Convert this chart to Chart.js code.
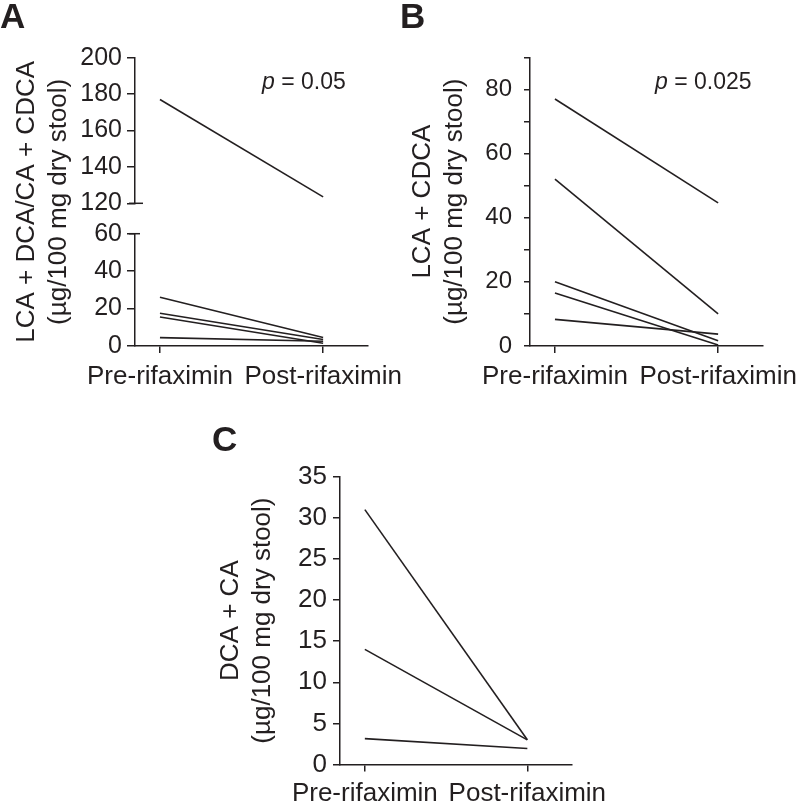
<!DOCTYPE html>
<html>
<head>
<meta charset="utf-8">
<title>Bile acids before and after rifaximin</title>
<script src="https://cdn.jsdelivr.net/npm/chart.js@4.4.1/dist/chart.umd.min.js"></script>
<style>
  html, body { margin: 0; padding: 0; background: #fff; }
  #wrap { position: relative; width: 800px; height: 807px; overflow: hidden; }
  canvas { position: absolute; }
</style>
</head>
<body>
<div id="wrap">
  <canvas id="chartA" width="420" height="400" style="left:0;top:0;width:420px;height:400px"></canvas>
  <canvas id="chartB" width="400" height="400" style="left:400px;top:0;width:400px;height:400px"></canvas>
  <canvas id="chartC" width="420" height="407" style="left:200px;top:400px;width:420px;height:407px"></canvas>
</div>
<script>
// x categories (tick labels)
const categories = ['Pre-rifaximin', 'Post-rifaximin'];

// Panel A - LCA + DCA/CA + CDCA, split axis
const aHighPre = [177];
const aHighPost = [123.5];
const aLowPre = [26, 17.5, 15.5, 4.5];
const aLowPost = [4.5, 3.5, 1.5, 2.5];
const aHighRange = [120, 200];
const aLowRange = [0, 60];

// Panel B - LCA + CDCA
const bPre = [77, 52, 20, 16.5, 8.3];
const bPost = [44.6, 10, 1.6, 0.3, 3.7];
const bRange = [0, 90];

// Panel C - DCA + CA
const cPre = [31, 14, 3.15];
const cPost = [3, 3, 1.95];
const cRange = [0, 35];

const pValues = ['0.05', '0.025'];

const INK = '#231f20';
const FONT = '"Liberation Sans", Arial, Helvetica, sans-serif';
Chart.defaults.font.family = FONT;
Chart.defaults.color = INK;

function subjectLines(pre, post, axisId) {
    return pre.map((v, i) => ({
        data: [{ x: 0, y: v }, { x: 1, y: post[i] }],
        yAxisID: axisId,
        borderColor: INK,
        borderWidth: 1.6,
        pointRadius: 0,
        tension: 0,
        fill: false
    }));
}

// linear x axis so the two groups sit where they do in the figure
function groupAxis(labelPad, height) {
    return {
        type: 'linear',
        position: 'bottom',
        min: -0.153,
        max: 1.275,
        afterBuildTicks: s => { s.ticks = categories.map((_, i) => ({ value: i })); },
        afterFit: s => { s.height = height; s.paddingLeft = 0; s.paddingRight = 0; },
        grid: { drawOnChartArea: false, tickLength: 7, color: INK, lineWidth: 1.5 },
        border: { color: INK, width: 1.5 },
        ticks: {
            padding: labelPad,
            maxRotation: 0,
            minRotation: 0,
            autoSkip: false,
            font: { size: 26 },
            color: INK,
            callback: v => categories[v]
        }
    };
}

function valueAxis(range, step, fontSize, tickLen, labelPad, width, labelEvery) {
    return {
        type: 'linear',
        position: 'left',
        min: range[0],
        max: range[1],
        afterFit: s => { s.width = width; s.paddingTop = 0; s.paddingBottom = 0; },
        grid: { drawOnChartArea: false, tickLength: tickLen, color: INK, lineWidth: 1.5 },
        border: { color: INK, width: 1.5 },
        ticks: {
            stepSize: step,
            autoSkip: false,
            padding: labelPad,
            font: { size: fontSize },
            color: INK,
            callback: v => (labelEvery && v % labelEvery !== 0) ? '' : v
        }
    };
}

function axisTitle(lines, pad) {
    return {
        display: true,
        text: lines,
        color: INK,
        font: { size: 26, lineHeight: 1.23 },
        padding: { top: pad, bottom: 0 }
    };
}

// panel letters, p values and the caps on the broken axis
const panelNotes = {
    id: 'panelNotes',
    afterDraw(chart, args, opts) {
        const ctx = chart.ctx;
        ctx.save();
        ctx.fillStyle = INK;
        ctx.strokeStyle = INK;
        ctx.lineWidth = 1.5;
        ctx.textAlign = 'left';
        ctx.textBaseline = 'alphabetic';
        ctx.font = 'bold 35px ' + FONT;
        ctx.fillText(opts.letter, opts.letterX, opts.letterY);
        if (opts.p) {
            ctx.font = 'italic 23px ' + FONT;
            ctx.fillText('p', opts.pX, opts.pY);
            const w = ctx.measureText('p').width;
            ctx.font = '23px ' + FONT;
            ctx.fillText(' = ' + opts.p, opts.pX + w, opts.pY);
        }
        (opts.caps || []).forEach(([id, value, reach]) => {
            const scale = chart.scales[id];
            const y = scale.getPixelForValue(value);
            const x = scale.right;
            ctx.beginPath();
            ctx.moveTo(x - 6, y);
            ctx.lineTo(x + reach, y);
            ctx.stroke();
        });
        ctx.restore();
    }
};

const common = {
    responsive: false,
    animation: false,
    events: []
};

// Panel A
const aHigh = valueAxis(aHighRange, 20, 25, 8, 5, 67);
aHigh.stack = 'a';
aHigh.stackWeight = 145.6;
aHigh.weight = 3;
const aLow = valueAxis(aLowRange, 20, 25, 8, 5, 67);
aLow.stack = 'a';
aLow.stackWeight = 112.3;
aLow.weight = 1;

new Chart(document.getElementById('chartA'), {
    type: 'line',
    data: {
        datasets: subjectLines(aHighPre, aHighPost, 'yHigh')
            .concat(subjectLines(aLowPre, aLowPost, 'yLow'))
    },
    options: {
        ...common,
        layout: { padding: { left: 0, top: 57.7, right: 52, bottom: 4 } },
        plugins: {
            legend: { display: false },
            tooltip: { enabled: false },
            panelNotes: {
                letter: 'A', letterX: 0, letterY: 28, p: pValues[0], pX: 262, pY: 89,
                caps: [['yHigh', aHighRange[0], 8], ['yLow', aLowRange[1], 5]]
            }
        },
        scales: {
            x: groupAxis(8, 50),
            yLow: aLow,
            yGap: {
                type: 'linear', position: 'left', display: false,
                min: 0, max: 1, stack: 'a', stackWeight: 30.4, weight: 2,
                afterFit: s => { s.width = 67; }
            },
            yHigh: aHigh,
            yTitle: {
                type: 'linear', position: 'left', weight: 10,
                min: 0, max: 1,
                afterFit: s => { s.width = 68; s.paddingTop = 0; s.paddingBottom = 0; },
                grid: { display: false },
                border: { display: false },
                ticks: { display: false },
                title: axisTitle(['LCA + DCA/CA + CDCA', '(\u00b5g/100 mg dry stool)'], 11)
            }
        }
    },
    plugins: [panelNotes]
});

// Panel B
const bAxis = valueAxis(bRange, 10, 24, 6, 12, 130, 20);
bAxis.title = axisTitle(['LCA + CDCA', '(\u00b5g/100 mg dry stool)'], 7);

new Chart(document.getElementById('chartB'), {
    type: 'line',
    data: { datasets: subjectLines(bPre, bPost, 'y') },
    options: {
        ...common,
        layout: { padding: { left: 0, top: 57.3, right: 37, bottom: 4 } },
        plugins: {
            legend: { display: false },
            tooltip: { enabled: false },
            panelNotes: { letter: 'B', letterX: 0, letterY: 28, p: pValues[1], pX: 255, pY: 89 }
        },
        scales: {
            x: groupAxis(8, 50),
            y: bAxis
        }
    },
    plugins: [panelNotes]
});

// Panel C
const cAxis = valueAxis(cRange, 5, 26, 7, 6, 140);
cAxis.title = axisTitle(['DCA + CA', '(\u00b5g/100 mg dry stool)'], 15);

new Chart(document.getElementById('chartC'), {
    type: 'line',
    data: { datasets: subjectLines(cPre, cPost, 'y') },
    options: {
        ...common,
        layout: { padding: { left: 0, top: 76.7, right: 48, bottom: 2.5 } },
        plugins: {
            legend: { display: false },
            tooltip: { enabled: false },
            panelNotes: { letter: 'C', letterX: 12, letterY: 51 }
        },
        scales: {
            x: groupAxis(7, 40),
            y: cAxis
        }
    },
    plugins: [panelNotes]
});
</script>
</body>
</html>
